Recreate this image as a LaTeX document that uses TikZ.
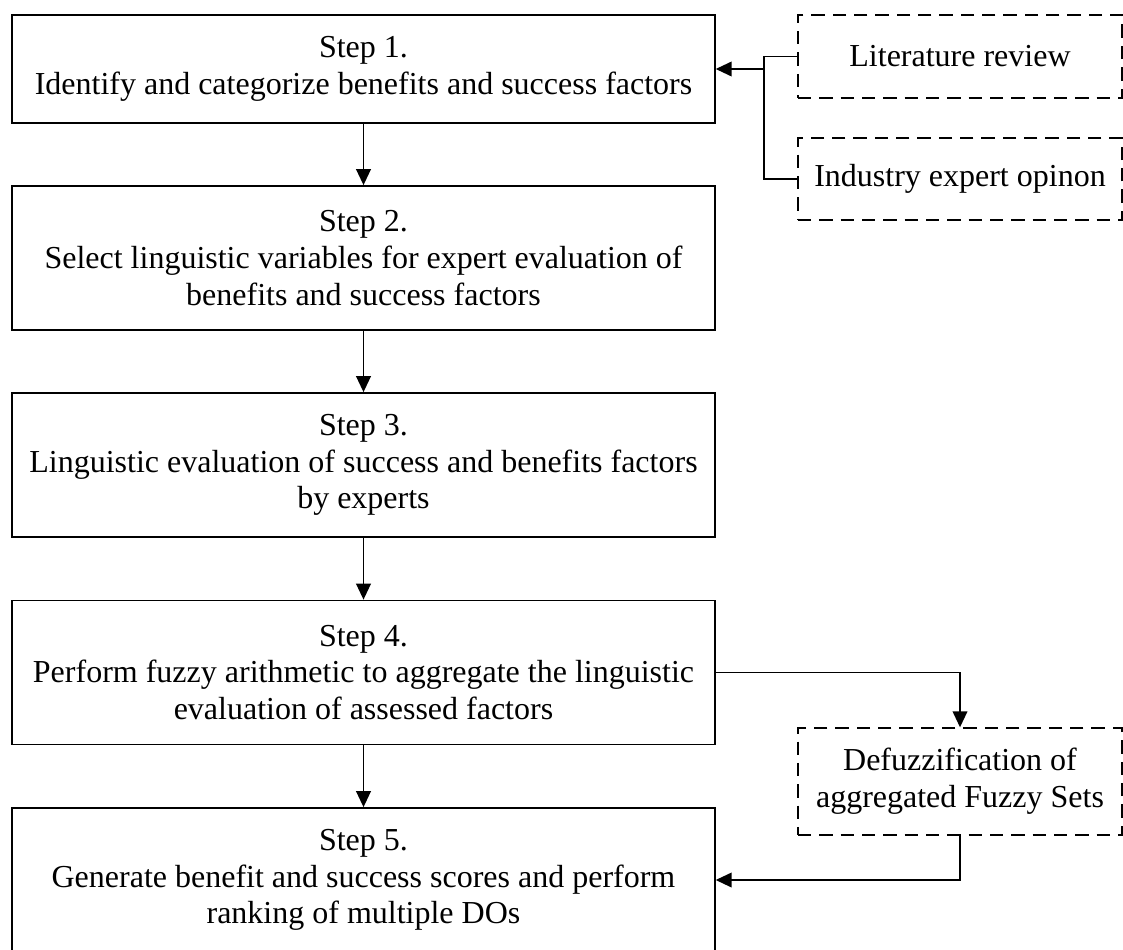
\documentclass[tikz,border=0pt]{standalone}
\usepackage{fontspec}
\setmainfont{Liberation Serif}
\usetikzlibrary{arrows.meta}
\begin{document}
\begin{tikzpicture}[x=0.75pt, y=-0.75pt, >={Triangle[length=12pt,width=11pt]}, line width=1.3pt,
  stepbox/.style={draw, align=center, inner sep=0pt, minimum width=527pt, font=\fontsize{24}{27.5}\selectfont},
  sourcebox/.style={draw, dashed, dash pattern=on 10pt off 6pt, align=center, inner sep=0pt, minimum width=243pt, font=\fontsize{24}{27.5}\selectfont}]
\useasboundingbox (0,0) rectangle (1123,949);
\node[stepbox, minimum height=81pt] (step1) at (363.5,69) {Step 1.\\Identify and categorize benefits and success factors};
\node[stepbox, minimum height=108pt] (step2) at (363.5,258) {Step 2.\\Select linguistic variables for expert evaluation of\\benefits and success factors};
\node[stepbox, minimum height=108pt] (step3) at (363.5,465) {Step 3.\\Linguistic evaluation of success and benefits factors\\by experts};
\node[stepbox, minimum height=108pt] (step4) at (363.5,672.5) {Step 4.\\Perform fuzzy arithmetic to aggregate the linguistic\\evaluation of assessed factors};
\node[stepbox, minimum height=108pt] (step5) at (363.5,880) {Step 5.\\Generate benefit and success scores and perform\\ranking of multiple DOs};
\node[sourcebox, minimum height=62pt] (literature) at (960,56.5) {Literature review};
\node[sourcebox, minimum height=61.5pt] (industry) at (960,179) {Industry expert opinon};
\node[sourcebox, minimum height=80pt] (defuzz) at (960,781.5) {Defuzzification of\\aggregated Fuzzy Sets};
\coordinate (join) at (764,69);
\draw[->] (step1) -- (step2);
\draw[->] (step2) -- (step3);
\draw[->] (step3) -- (step4);
\draw[->] (step4) -- (step5);
\draw (literature.west) -| (join);
\draw (industry.west) -| (join);
\draw[->] (join) -- (step1.east);
\draw[->] (step4.east) -| (defuzz.north);
\draw[->] (defuzz.south) |- (step5.east);
\end{tikzpicture}
\end{document}
